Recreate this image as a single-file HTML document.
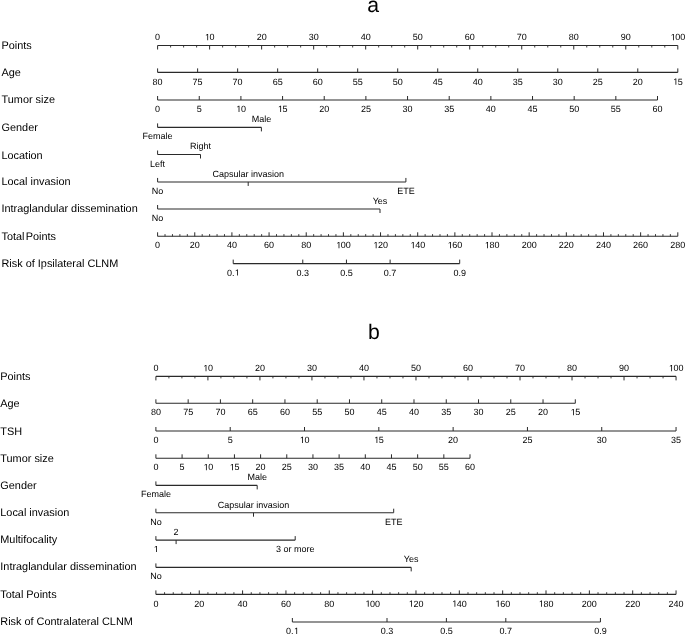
<!DOCTYPE html>
<html><head><meta charset="utf-8"><style>
html,body{margin:0;padding:0;background:#fff;}
body{width:685px;height:634px;overflow:hidden;}
svg{display:block;will-change:transform;}
text{font-family:"Liberation Sans",sans-serif;text-rendering:geometricPrecision;fill:#000000;}
</style></head><body>
<svg width="685" height="634" viewBox="0 0 685 634">
<rect width="685" height="634" fill="#fff"/>
<text x="373.20" y="11.95" font-size="21.2" text-anchor="middle" >a</text>
<text x="1.50" y="48.80" font-size="10.9" text-anchor="start" >Points</text>
<text x="1.50" y="75.50" font-size="10.9" text-anchor="start" >Age</text>
<text x="1.50" y="103.00" font-size="10.9" text-anchor="start" >Tumor size</text>
<text x="1.50" y="130.90" font-size="10.9" text-anchor="start" >Gender</text>
<text x="1.50" y="158.50" font-size="10.9" text-anchor="start" >Location</text>
<text x="1.50" y="185.00" font-size="10.9" text-anchor="start" >Local invasion</text>
<text x="1.50" y="212.00" font-size="10.9" text-anchor="start" >Intraglandular dissemination</text>
<text x="1.50" y="240.30" font-size="10.9" text-anchor="start" word-spacing="-1.8">Total Points</text>
<text x="1.50" y="266.90" font-size="10.9" text-anchor="start" >Risk of Ipsilateral CLNM</text>
<line x1="157.60" y1="45.50" x2="677.80" y2="45.50" stroke="#2a2a2a" stroke-width="1.1"/>
<line x1="157.60" y1="45.50" x2="157.60" y2="49.50" stroke="#2a2a2a" stroke-width="1.0"/>
<text x="157.60" y="40.30" font-size="9" text-anchor="middle" >0</text>
<line x1="170.60" y1="45.50" x2="170.60" y2="47.50" stroke="#2a2a2a" stroke-width="0.9"/>
<line x1="183.61" y1="45.50" x2="183.61" y2="47.50" stroke="#2a2a2a" stroke-width="0.9"/>
<line x1="196.61" y1="45.50" x2="196.61" y2="47.50" stroke="#2a2a2a" stroke-width="0.9"/>
<line x1="209.62" y1="45.50" x2="209.62" y2="49.50" stroke="#2a2a2a" stroke-width="1.0"/>
<text x="209.62" y="40.30" font-size="9" text-anchor="middle" > 0</text>
<polygon points="207.32,40.30 207.32,34.86 205.92,35.86 205.92,35.11 207.38,34.11 208.11,34.11 208.11,40.30" fill="#000000"/>
<line x1="222.62" y1="45.50" x2="222.62" y2="47.50" stroke="#2a2a2a" stroke-width="0.9"/>
<line x1="235.63" y1="45.50" x2="235.63" y2="47.50" stroke="#2a2a2a" stroke-width="0.9"/>
<line x1="248.63" y1="45.50" x2="248.63" y2="47.50" stroke="#2a2a2a" stroke-width="0.9"/>
<line x1="261.64" y1="45.50" x2="261.64" y2="49.50" stroke="#2a2a2a" stroke-width="1.0"/>
<text x="261.64" y="40.30" font-size="9" text-anchor="middle" >20</text>
<line x1="274.64" y1="45.50" x2="274.64" y2="47.50" stroke="#2a2a2a" stroke-width="0.9"/>
<line x1="287.65" y1="45.50" x2="287.65" y2="47.50" stroke="#2a2a2a" stroke-width="0.9"/>
<line x1="300.65" y1="45.50" x2="300.65" y2="47.50" stroke="#2a2a2a" stroke-width="0.9"/>
<line x1="313.66" y1="45.50" x2="313.66" y2="49.50" stroke="#2a2a2a" stroke-width="1.0"/>
<text x="313.66" y="40.30" font-size="9" text-anchor="middle" >30</text>
<line x1="326.66" y1="45.50" x2="326.66" y2="47.50" stroke="#2a2a2a" stroke-width="0.9"/>
<line x1="339.67" y1="45.50" x2="339.67" y2="47.50" stroke="#2a2a2a" stroke-width="0.9"/>
<line x1="352.67" y1="45.50" x2="352.67" y2="47.50" stroke="#2a2a2a" stroke-width="0.9"/>
<line x1="365.68" y1="45.50" x2="365.68" y2="49.50" stroke="#2a2a2a" stroke-width="1.0"/>
<text x="365.68" y="40.30" font-size="9" text-anchor="middle" >40</text>
<line x1="378.68" y1="45.50" x2="378.68" y2="47.50" stroke="#2a2a2a" stroke-width="0.9"/>
<line x1="391.69" y1="45.50" x2="391.69" y2="47.50" stroke="#2a2a2a" stroke-width="0.9"/>
<line x1="404.69" y1="45.50" x2="404.69" y2="47.50" stroke="#2a2a2a" stroke-width="0.9"/>
<line x1="417.70" y1="45.50" x2="417.70" y2="49.50" stroke="#2a2a2a" stroke-width="1.0"/>
<text x="417.70" y="40.30" font-size="9" text-anchor="middle" >50</text>
<line x1="430.70" y1="45.50" x2="430.70" y2="47.50" stroke="#2a2a2a" stroke-width="0.9"/>
<line x1="443.71" y1="45.50" x2="443.71" y2="47.50" stroke="#2a2a2a" stroke-width="0.9"/>
<line x1="456.71" y1="45.50" x2="456.71" y2="47.50" stroke="#2a2a2a" stroke-width="0.9"/>
<line x1="469.72" y1="45.50" x2="469.72" y2="49.50" stroke="#2a2a2a" stroke-width="1.0"/>
<text x="469.72" y="40.30" font-size="9" text-anchor="middle" >60</text>
<line x1="482.72" y1="45.50" x2="482.72" y2="47.50" stroke="#2a2a2a" stroke-width="0.9"/>
<line x1="495.73" y1="45.50" x2="495.73" y2="47.50" stroke="#2a2a2a" stroke-width="0.9"/>
<line x1="508.73" y1="45.50" x2="508.73" y2="47.50" stroke="#2a2a2a" stroke-width="0.9"/>
<line x1="521.74" y1="45.50" x2="521.74" y2="49.50" stroke="#2a2a2a" stroke-width="1.0"/>
<text x="521.74" y="40.30" font-size="9" text-anchor="middle" >70</text>
<line x1="534.74" y1="45.50" x2="534.74" y2="47.50" stroke="#2a2a2a" stroke-width="0.9"/>
<line x1="547.75" y1="45.50" x2="547.75" y2="47.50" stroke="#2a2a2a" stroke-width="0.9"/>
<line x1="560.75" y1="45.50" x2="560.75" y2="47.50" stroke="#2a2a2a" stroke-width="0.9"/>
<line x1="573.76" y1="45.50" x2="573.76" y2="49.50" stroke="#2a2a2a" stroke-width="1.0"/>
<text x="573.76" y="40.30" font-size="9" text-anchor="middle" >80</text>
<line x1="586.76" y1="45.50" x2="586.76" y2="47.50" stroke="#2a2a2a" stroke-width="0.9"/>
<line x1="599.77" y1="45.50" x2="599.77" y2="47.50" stroke="#2a2a2a" stroke-width="0.9"/>
<line x1="612.77" y1="45.50" x2="612.77" y2="47.50" stroke="#2a2a2a" stroke-width="0.9"/>
<line x1="625.78" y1="45.50" x2="625.78" y2="49.50" stroke="#2a2a2a" stroke-width="1.0"/>
<text x="625.78" y="40.30" font-size="9" text-anchor="middle" >90</text>
<line x1="638.78" y1="45.50" x2="638.78" y2="47.50" stroke="#2a2a2a" stroke-width="0.9"/>
<line x1="651.79" y1="45.50" x2="651.79" y2="47.50" stroke="#2a2a2a" stroke-width="0.9"/>
<line x1="664.79" y1="45.50" x2="664.79" y2="47.50" stroke="#2a2a2a" stroke-width="0.9"/>
<line x1="677.80" y1="45.50" x2="677.80" y2="49.50" stroke="#2a2a2a" stroke-width="1.0"/>
<text x="677.80" y="40.30" font-size="9" text-anchor="middle" > 00</text>
<polygon points="672.99,40.30 672.99,34.86 671.60,35.86 671.60,35.11 673.06,34.11 673.79,34.11 673.79,40.30" fill="#000000"/>
<line x1="157.60" y1="72.40" x2="677.80" y2="72.40" stroke="#2a2a2a" stroke-width="1.1"/>
<line x1="157.60" y1="72.40" x2="157.60" y2="68.40" stroke="#2a2a2a" stroke-width="1.0"/>
<text x="157.60" y="84.80" font-size="9" text-anchor="middle" >80</text>
<line x1="197.62" y1="72.40" x2="197.62" y2="68.40" stroke="#2a2a2a" stroke-width="1.0"/>
<text x="197.62" y="84.80" font-size="9" text-anchor="middle" >75</text>
<line x1="237.63" y1="72.40" x2="237.63" y2="68.40" stroke="#2a2a2a" stroke-width="1.0"/>
<text x="237.63" y="84.80" font-size="9" text-anchor="middle" >70</text>
<line x1="277.65" y1="72.40" x2="277.65" y2="68.40" stroke="#2a2a2a" stroke-width="1.0"/>
<text x="277.65" y="84.80" font-size="9" text-anchor="middle" >65</text>
<line x1="317.66" y1="72.40" x2="317.66" y2="68.40" stroke="#2a2a2a" stroke-width="1.0"/>
<text x="317.66" y="84.80" font-size="9" text-anchor="middle" >60</text>
<line x1="357.68" y1="72.40" x2="357.68" y2="68.40" stroke="#2a2a2a" stroke-width="1.0"/>
<text x="357.68" y="84.80" font-size="9" text-anchor="middle" >55</text>
<line x1="397.69" y1="72.40" x2="397.69" y2="68.40" stroke="#2a2a2a" stroke-width="1.0"/>
<text x="397.69" y="84.80" font-size="9" text-anchor="middle" >50</text>
<line x1="437.71" y1="72.40" x2="437.71" y2="68.40" stroke="#2a2a2a" stroke-width="1.0"/>
<text x="437.71" y="84.80" font-size="9" text-anchor="middle" >45</text>
<line x1="477.72" y1="72.40" x2="477.72" y2="68.40" stroke="#2a2a2a" stroke-width="1.0"/>
<text x="477.72" y="84.80" font-size="9" text-anchor="middle" >40</text>
<line x1="517.74" y1="72.40" x2="517.74" y2="68.40" stroke="#2a2a2a" stroke-width="1.0"/>
<text x="517.74" y="84.80" font-size="9" text-anchor="middle" >35</text>
<line x1="557.75" y1="72.40" x2="557.75" y2="68.40" stroke="#2a2a2a" stroke-width="1.0"/>
<text x="557.75" y="84.80" font-size="9" text-anchor="middle" >30</text>
<line x1="597.77" y1="72.40" x2="597.77" y2="68.40" stroke="#2a2a2a" stroke-width="1.0"/>
<text x="597.77" y="84.80" font-size="9" text-anchor="middle" >25</text>
<line x1="637.78" y1="72.40" x2="637.78" y2="68.40" stroke="#2a2a2a" stroke-width="1.0"/>
<text x="637.78" y="84.80" font-size="9" text-anchor="middle" >20</text>
<line x1="677.80" y1="72.40" x2="677.80" y2="68.40" stroke="#2a2a2a" stroke-width="1.0"/>
<text x="677.80" y="84.80" font-size="9" text-anchor="middle" > 5</text>
<polygon points="675.50,84.80 675.50,79.36 674.10,80.36 674.10,79.61 675.56,78.61 676.29,78.61 676.29,84.80" fill="#000000"/>
<line x1="157.60" y1="100.00" x2="657.50" y2="100.00" stroke="#2a2a2a" stroke-width="1.1"/>
<line x1="157.60" y1="100.00" x2="157.60" y2="96.00" stroke="#2a2a2a" stroke-width="1.0"/>
<text x="157.60" y="112.00" font-size="9" text-anchor="middle" >0</text>
<line x1="199.26" y1="100.00" x2="199.26" y2="96.00" stroke="#2a2a2a" stroke-width="1.0"/>
<text x="199.26" y="112.00" font-size="9" text-anchor="middle" >5</text>
<line x1="240.92" y1="100.00" x2="240.92" y2="96.00" stroke="#2a2a2a" stroke-width="1.0"/>
<text x="240.92" y="112.00" font-size="9" text-anchor="middle" > 0</text>
<polygon points="238.61,112.00 238.61,106.56 237.22,107.56 237.22,106.81 238.68,105.81 239.41,105.81 239.41,112.00" fill="#000000"/>
<line x1="282.57" y1="100.00" x2="282.57" y2="96.00" stroke="#2a2a2a" stroke-width="1.0"/>
<text x="282.57" y="112.00" font-size="9" text-anchor="middle" > 5</text>
<polygon points="280.27,112.00 280.27,106.56 278.87,107.56 278.87,106.81 280.34,105.81 281.07,105.81 281.07,112.00" fill="#000000"/>
<line x1="324.23" y1="100.00" x2="324.23" y2="96.00" stroke="#2a2a2a" stroke-width="1.0"/>
<text x="324.23" y="112.00" font-size="9" text-anchor="middle" >20</text>
<line x1="365.89" y1="100.00" x2="365.89" y2="96.00" stroke="#2a2a2a" stroke-width="1.0"/>
<text x="365.89" y="112.00" font-size="9" text-anchor="middle" >25</text>
<line x1="407.55" y1="100.00" x2="407.55" y2="96.00" stroke="#2a2a2a" stroke-width="1.0"/>
<text x="407.55" y="112.00" font-size="9" text-anchor="middle" >30</text>
<line x1="449.21" y1="100.00" x2="449.21" y2="96.00" stroke="#2a2a2a" stroke-width="1.0"/>
<text x="449.21" y="112.00" font-size="9" text-anchor="middle" >35</text>
<line x1="490.87" y1="100.00" x2="490.87" y2="96.00" stroke="#2a2a2a" stroke-width="1.0"/>
<text x="490.87" y="112.00" font-size="9" text-anchor="middle" >40</text>
<line x1="532.52" y1="100.00" x2="532.52" y2="96.00" stroke="#2a2a2a" stroke-width="1.0"/>
<text x="532.52" y="112.00" font-size="9" text-anchor="middle" >45</text>
<line x1="574.18" y1="100.00" x2="574.18" y2="96.00" stroke="#2a2a2a" stroke-width="1.0"/>
<text x="574.18" y="112.00" font-size="9" text-anchor="middle" >50</text>
<line x1="615.84" y1="100.00" x2="615.84" y2="96.00" stroke="#2a2a2a" stroke-width="1.0"/>
<text x="615.84" y="112.00" font-size="9" text-anchor="middle" >55</text>
<line x1="657.50" y1="100.00" x2="657.50" y2="96.00" stroke="#2a2a2a" stroke-width="1.0"/>
<text x="657.50" y="112.00" font-size="9" text-anchor="middle" >60</text>
<line x1="157.60" y1="127.40" x2="261.40" y2="127.40" stroke="#2a2a2a" stroke-width="1.1"/>
<line x1="157.60" y1="127.40" x2="157.60" y2="123.40" stroke="#2a2a2a" stroke-width="1.0"/>
<text x="157.60" y="139.40" font-size="9" text-anchor="middle" >Female</text>
<line x1="261.40" y1="127.40" x2="261.40" y2="131.40" stroke="#2a2a2a" stroke-width="1.0"/>
<text x="261.40" y="122.20" font-size="9" text-anchor="middle" >Male</text>
<line x1="157.60" y1="154.50" x2="200.50" y2="154.50" stroke="#2a2a2a" stroke-width="1.1"/>
<line x1="157.60" y1="154.50" x2="157.60" y2="150.50" stroke="#2a2a2a" stroke-width="1.0"/>
<text x="157.60" y="166.50" font-size="9" text-anchor="middle" >Left</text>
<line x1="200.50" y1="154.50" x2="200.50" y2="158.50" stroke="#2a2a2a" stroke-width="1.0"/>
<text x="200.50" y="149.30" font-size="9" text-anchor="middle" >Right</text>
<line x1="157.60" y1="181.95" x2="405.90" y2="181.95" stroke="#2a2a2a" stroke-width="1.1"/>
<line x1="157.60" y1="181.95" x2="157.60" y2="177.95" stroke="#2a2a2a" stroke-width="1.0"/>
<text x="157.60" y="193.95" font-size="9" text-anchor="middle" >No</text>
<line x1="248.20" y1="181.95" x2="248.20" y2="185.95" stroke="#2a2a2a" stroke-width="1.0"/>
<text x="248.20" y="176.75" font-size="9" text-anchor="middle" >Capsular invasion</text>
<line x1="405.90" y1="181.95" x2="405.90" y2="177.95" stroke="#2a2a2a" stroke-width="1.0"/>
<text x="405.90" y="193.95" font-size="9" text-anchor="middle" >ETE</text>
<line x1="157.60" y1="209.00" x2="380.00" y2="209.00" stroke="#2a2a2a" stroke-width="1.1"/>
<line x1="157.60" y1="209.00" x2="157.60" y2="205.00" stroke="#2a2a2a" stroke-width="1.0"/>
<text x="157.60" y="221.00" font-size="9" text-anchor="middle" >No</text>
<line x1="380.00" y1="209.00" x2="380.00" y2="213.00" stroke="#2a2a2a" stroke-width="1.0"/>
<text x="380.00" y="203.80" font-size="9" text-anchor="middle" >Yes</text>
<line x1="157.60" y1="236.30" x2="677.80" y2="236.30" stroke="#2a2a2a" stroke-width="1.1"/>
<line x1="157.60" y1="236.30" x2="157.60" y2="232.30" stroke="#2a2a2a" stroke-width="1.0"/>
<text x="157.60" y="248.30" font-size="9" text-anchor="middle" >0</text>
<line x1="165.03" y1="236.30" x2="165.03" y2="234.10" stroke="#2a2a2a" stroke-width="0.9"/>
<line x1="172.46" y1="236.30" x2="172.46" y2="234.10" stroke="#2a2a2a" stroke-width="0.9"/>
<line x1="179.89" y1="236.30" x2="179.89" y2="234.10" stroke="#2a2a2a" stroke-width="0.9"/>
<line x1="187.33" y1="236.30" x2="187.33" y2="234.10" stroke="#2a2a2a" stroke-width="0.9"/>
<line x1="194.76" y1="236.30" x2="194.76" y2="232.30" stroke="#2a2a2a" stroke-width="1.0"/>
<text x="194.76" y="248.30" font-size="9" text-anchor="middle" >20</text>
<line x1="202.19" y1="236.30" x2="202.19" y2="234.10" stroke="#2a2a2a" stroke-width="0.9"/>
<line x1="209.62" y1="236.30" x2="209.62" y2="234.10" stroke="#2a2a2a" stroke-width="0.9"/>
<line x1="217.05" y1="236.30" x2="217.05" y2="234.10" stroke="#2a2a2a" stroke-width="0.9"/>
<line x1="224.48" y1="236.30" x2="224.48" y2="234.10" stroke="#2a2a2a" stroke-width="0.9"/>
<line x1="231.91" y1="236.30" x2="231.91" y2="232.30" stroke="#2a2a2a" stroke-width="1.0"/>
<text x="231.91" y="248.30" font-size="9" text-anchor="middle" >40</text>
<line x1="239.35" y1="236.30" x2="239.35" y2="234.10" stroke="#2a2a2a" stroke-width="0.9"/>
<line x1="246.78" y1="236.30" x2="246.78" y2="234.10" stroke="#2a2a2a" stroke-width="0.9"/>
<line x1="254.21" y1="236.30" x2="254.21" y2="234.10" stroke="#2a2a2a" stroke-width="0.9"/>
<line x1="261.64" y1="236.30" x2="261.64" y2="234.10" stroke="#2a2a2a" stroke-width="0.9"/>
<line x1="269.07" y1="236.30" x2="269.07" y2="232.30" stroke="#2a2a2a" stroke-width="1.0"/>
<text x="269.07" y="248.30" font-size="9" text-anchor="middle" >60</text>
<line x1="276.50" y1="236.30" x2="276.50" y2="234.10" stroke="#2a2a2a" stroke-width="0.9"/>
<line x1="283.93" y1="236.30" x2="283.93" y2="234.10" stroke="#2a2a2a" stroke-width="0.9"/>
<line x1="291.37" y1="236.30" x2="291.37" y2="234.10" stroke="#2a2a2a" stroke-width="0.9"/>
<line x1="298.80" y1="236.30" x2="298.80" y2="234.10" stroke="#2a2a2a" stroke-width="0.9"/>
<line x1="306.23" y1="236.30" x2="306.23" y2="232.30" stroke="#2a2a2a" stroke-width="1.0"/>
<text x="306.23" y="248.30" font-size="9" text-anchor="middle" >80</text>
<line x1="313.66" y1="236.30" x2="313.66" y2="234.10" stroke="#2a2a2a" stroke-width="0.9"/>
<line x1="321.09" y1="236.30" x2="321.09" y2="234.10" stroke="#2a2a2a" stroke-width="0.9"/>
<line x1="328.52" y1="236.30" x2="328.52" y2="234.10" stroke="#2a2a2a" stroke-width="0.9"/>
<line x1="335.95" y1="236.30" x2="335.95" y2="234.10" stroke="#2a2a2a" stroke-width="0.9"/>
<line x1="343.39" y1="236.30" x2="343.39" y2="232.30" stroke="#2a2a2a" stroke-width="1.0"/>
<text x="343.39" y="248.30" font-size="9" text-anchor="middle" > 00</text>
<polygon points="338.58,248.30 338.58,242.86 337.18,243.86 337.18,243.11 338.65,242.11 339.38,242.11 339.38,248.30" fill="#000000"/>
<line x1="350.82" y1="236.30" x2="350.82" y2="234.10" stroke="#2a2a2a" stroke-width="0.9"/>
<line x1="358.25" y1="236.30" x2="358.25" y2="234.10" stroke="#2a2a2a" stroke-width="0.9"/>
<line x1="365.68" y1="236.30" x2="365.68" y2="234.10" stroke="#2a2a2a" stroke-width="0.9"/>
<line x1="373.11" y1="236.30" x2="373.11" y2="234.10" stroke="#2a2a2a" stroke-width="0.9"/>
<line x1="380.54" y1="236.30" x2="380.54" y2="232.30" stroke="#2a2a2a" stroke-width="1.0"/>
<text x="380.54" y="248.30" font-size="9" text-anchor="middle" > 20</text>
<polygon points="375.74,248.30 375.74,242.86 374.34,243.86 374.34,243.11 375.80,242.11 376.53,242.11 376.53,248.30" fill="#000000"/>
<line x1="387.97" y1="236.30" x2="387.97" y2="234.10" stroke="#2a2a2a" stroke-width="0.9"/>
<line x1="395.41" y1="236.30" x2="395.41" y2="234.10" stroke="#2a2a2a" stroke-width="0.9"/>
<line x1="402.84" y1="236.30" x2="402.84" y2="234.10" stroke="#2a2a2a" stroke-width="0.9"/>
<line x1="410.27" y1="236.30" x2="410.27" y2="234.10" stroke="#2a2a2a" stroke-width="0.9"/>
<line x1="417.70" y1="236.30" x2="417.70" y2="232.30" stroke="#2a2a2a" stroke-width="1.0"/>
<text x="417.70" y="248.30" font-size="9" text-anchor="middle" > 40</text>
<polygon points="412.89,248.30 412.89,242.86 411.50,243.86 411.50,243.11 412.96,242.11 413.69,242.11 413.69,248.30" fill="#000000"/>
<line x1="425.13" y1="236.30" x2="425.13" y2="234.10" stroke="#2a2a2a" stroke-width="0.9"/>
<line x1="432.56" y1="236.30" x2="432.56" y2="234.10" stroke="#2a2a2a" stroke-width="0.9"/>
<line x1="439.99" y1="236.30" x2="439.99" y2="234.10" stroke="#2a2a2a" stroke-width="0.9"/>
<line x1="447.43" y1="236.30" x2="447.43" y2="234.10" stroke="#2a2a2a" stroke-width="0.9"/>
<line x1="454.86" y1="236.30" x2="454.86" y2="232.30" stroke="#2a2a2a" stroke-width="1.0"/>
<text x="454.86" y="248.30" font-size="9" text-anchor="middle" > 60</text>
<polygon points="450.05,248.30 450.05,242.86 448.65,243.86 448.65,243.11 450.12,242.11 450.85,242.11 450.85,248.30" fill="#000000"/>
<line x1="462.29" y1="236.30" x2="462.29" y2="234.10" stroke="#2a2a2a" stroke-width="0.9"/>
<line x1="469.72" y1="236.30" x2="469.72" y2="234.10" stroke="#2a2a2a" stroke-width="0.9"/>
<line x1="477.15" y1="236.30" x2="477.15" y2="234.10" stroke="#2a2a2a" stroke-width="0.9"/>
<line x1="484.58" y1="236.30" x2="484.58" y2="234.10" stroke="#2a2a2a" stroke-width="0.9"/>
<line x1="492.01" y1="236.30" x2="492.01" y2="232.30" stroke="#2a2a2a" stroke-width="1.0"/>
<text x="492.01" y="248.30" font-size="9" text-anchor="middle" > 80</text>
<polygon points="487.21,248.30 487.21,242.86 485.81,243.86 485.81,243.11 487.27,242.11 488.00,242.11 488.00,248.30" fill="#000000"/>
<line x1="499.45" y1="236.30" x2="499.45" y2="234.10" stroke="#2a2a2a" stroke-width="0.9"/>
<line x1="506.88" y1="236.30" x2="506.88" y2="234.10" stroke="#2a2a2a" stroke-width="0.9"/>
<line x1="514.31" y1="236.30" x2="514.31" y2="234.10" stroke="#2a2a2a" stroke-width="0.9"/>
<line x1="521.74" y1="236.30" x2="521.74" y2="234.10" stroke="#2a2a2a" stroke-width="0.9"/>
<line x1="529.17" y1="236.30" x2="529.17" y2="232.30" stroke="#2a2a2a" stroke-width="1.0"/>
<text x="529.17" y="248.30" font-size="9" text-anchor="middle" >200</text>
<line x1="536.60" y1="236.30" x2="536.60" y2="234.10" stroke="#2a2a2a" stroke-width="0.9"/>
<line x1="544.03" y1="236.30" x2="544.03" y2="234.10" stroke="#2a2a2a" stroke-width="0.9"/>
<line x1="551.47" y1="236.30" x2="551.47" y2="234.10" stroke="#2a2a2a" stroke-width="0.9"/>
<line x1="558.90" y1="236.30" x2="558.90" y2="234.10" stroke="#2a2a2a" stroke-width="0.9"/>
<line x1="566.33" y1="236.30" x2="566.33" y2="232.30" stroke="#2a2a2a" stroke-width="1.0"/>
<text x="566.33" y="248.30" font-size="9" text-anchor="middle" >220</text>
<line x1="573.76" y1="236.30" x2="573.76" y2="234.10" stroke="#2a2a2a" stroke-width="0.9"/>
<line x1="581.19" y1="236.30" x2="581.19" y2="234.10" stroke="#2a2a2a" stroke-width="0.9"/>
<line x1="588.62" y1="236.30" x2="588.62" y2="234.10" stroke="#2a2a2a" stroke-width="0.9"/>
<line x1="596.05" y1="236.30" x2="596.05" y2="234.10" stroke="#2a2a2a" stroke-width="0.9"/>
<line x1="603.49" y1="236.30" x2="603.49" y2="232.30" stroke="#2a2a2a" stroke-width="1.0"/>
<text x="603.49" y="248.30" font-size="9" text-anchor="middle" >240</text>
<line x1="610.92" y1="236.30" x2="610.92" y2="234.10" stroke="#2a2a2a" stroke-width="0.9"/>
<line x1="618.35" y1="236.30" x2="618.35" y2="234.10" stroke="#2a2a2a" stroke-width="0.9"/>
<line x1="625.78" y1="236.30" x2="625.78" y2="234.10" stroke="#2a2a2a" stroke-width="0.9"/>
<line x1="633.21" y1="236.30" x2="633.21" y2="234.10" stroke="#2a2a2a" stroke-width="0.9"/>
<line x1="640.64" y1="236.30" x2="640.64" y2="232.30" stroke="#2a2a2a" stroke-width="1.0"/>
<text x="640.64" y="248.30" font-size="9" text-anchor="middle" >260</text>
<line x1="648.07" y1="236.30" x2="648.07" y2="234.10" stroke="#2a2a2a" stroke-width="0.9"/>
<line x1="655.51" y1="236.30" x2="655.51" y2="234.10" stroke="#2a2a2a" stroke-width="0.9"/>
<line x1="662.94" y1="236.30" x2="662.94" y2="234.10" stroke="#2a2a2a" stroke-width="0.9"/>
<line x1="670.37" y1="236.30" x2="670.37" y2="234.10" stroke="#2a2a2a" stroke-width="0.9"/>
<line x1="677.80" y1="236.30" x2="677.80" y2="232.30" stroke="#2a2a2a" stroke-width="1.0"/>
<text x="677.80" y="248.30" font-size="9" text-anchor="middle" >280</text>
<line x1="233.21" y1="263.60" x2="459.69" y2="263.60" stroke="#2a2a2a" stroke-width="1.1"/>
<line x1="233.21" y1="263.60" x2="233.21" y2="259.60" stroke="#2a2a2a" stroke-width="1.0"/>
<text x="233.21" y="275.60" font-size="9" text-anchor="middle" >0. </text>
<polygon points="237.16,275.60 237.16,270.16 235.76,271.16 235.76,270.41 237.22,269.41 237.95,269.41 237.95,275.60" fill="#000000"/>
<line x1="302.78" y1="263.60" x2="302.78" y2="259.60" stroke="#2a2a2a" stroke-width="1.0"/>
<text x="302.78" y="275.60" font-size="9" text-anchor="middle" >0.3</text>
<line x1="346.45" y1="263.60" x2="346.45" y2="259.60" stroke="#2a2a2a" stroke-width="1.0"/>
<text x="346.45" y="275.60" font-size="9" text-anchor="middle" >0.5</text>
<line x1="390.12" y1="263.60" x2="390.12" y2="259.60" stroke="#2a2a2a" stroke-width="1.0"/>
<text x="390.12" y="275.60" font-size="9" text-anchor="middle" >0.7</text>
<line x1="459.69" y1="263.60" x2="459.69" y2="259.60" stroke="#2a2a2a" stroke-width="1.0"/>
<text x="459.69" y="275.60" font-size="9" text-anchor="middle" >0.9</text>
<text x="373.80" y="339.20" font-size="21.2" text-anchor="middle" >b</text>
<text x="0.30" y="379.90" font-size="10.9" text-anchor="start" >Points</text>
<text x="0.30" y="406.50" font-size="10.9" text-anchor="start" >Age</text>
<text x="0.30" y="434.90" font-size="10.9" text-anchor="start" >TSH</text>
<text x="0.30" y="461.50" font-size="10.9" text-anchor="start" >Tumor size</text>
<text x="0.30" y="489.30" font-size="10.9" text-anchor="start" >Gender</text>
<text x="0.30" y="516.00" font-size="10.9" text-anchor="start" >Local invasion</text>
<text x="0.30" y="542.90" font-size="10.9" text-anchor="start" >Multifocality</text>
<text x="0.30" y="569.70" font-size="10.9" text-anchor="start" >Intraglandular dissemination</text>
<text x="0.30" y="598.40" font-size="10.9" text-anchor="start" >Total Points</text>
<text x="0.30" y="624.70" font-size="10.9" text-anchor="start" >Risk of Contralateral CLNM</text>
<line x1="155.90" y1="376.40" x2="676.05" y2="376.40" stroke="#2a2a2a" stroke-width="1.1"/>
<line x1="155.90" y1="376.40" x2="155.90" y2="380.40" stroke="#2a2a2a" stroke-width="1.0"/>
<text x="155.90" y="371.20" font-size="9" text-anchor="middle" >0</text>
<line x1="168.90" y1="376.40" x2="168.90" y2="378.40" stroke="#2a2a2a" stroke-width="0.9"/>
<line x1="181.91" y1="376.40" x2="181.91" y2="378.40" stroke="#2a2a2a" stroke-width="0.9"/>
<line x1="194.91" y1="376.40" x2="194.91" y2="378.40" stroke="#2a2a2a" stroke-width="0.9"/>
<line x1="207.92" y1="376.40" x2="207.92" y2="380.40" stroke="#2a2a2a" stroke-width="1.0"/>
<text x="207.92" y="371.20" font-size="9" text-anchor="middle" > 0</text>
<polygon points="205.61,371.20 205.61,365.76 204.21,366.76 204.21,366.01 205.68,365.01 206.41,365.01 206.41,371.20" fill="#000000"/>
<line x1="220.92" y1="376.40" x2="220.92" y2="378.40" stroke="#2a2a2a" stroke-width="0.9"/>
<line x1="233.92" y1="376.40" x2="233.92" y2="378.40" stroke="#2a2a2a" stroke-width="0.9"/>
<line x1="246.93" y1="376.40" x2="246.93" y2="378.40" stroke="#2a2a2a" stroke-width="0.9"/>
<line x1="259.93" y1="376.40" x2="259.93" y2="380.40" stroke="#2a2a2a" stroke-width="1.0"/>
<text x="259.93" y="371.20" font-size="9" text-anchor="middle" >20</text>
<line x1="272.93" y1="376.40" x2="272.93" y2="378.40" stroke="#2a2a2a" stroke-width="0.9"/>
<line x1="285.94" y1="376.40" x2="285.94" y2="378.40" stroke="#2a2a2a" stroke-width="0.9"/>
<line x1="298.94" y1="376.40" x2="298.94" y2="378.40" stroke="#2a2a2a" stroke-width="0.9"/>
<line x1="311.94" y1="376.40" x2="311.94" y2="380.40" stroke="#2a2a2a" stroke-width="1.0"/>
<text x="311.94" y="371.20" font-size="9" text-anchor="middle" >30</text>
<line x1="324.95" y1="376.40" x2="324.95" y2="378.40" stroke="#2a2a2a" stroke-width="0.9"/>
<line x1="337.95" y1="376.40" x2="337.95" y2="378.40" stroke="#2a2a2a" stroke-width="0.9"/>
<line x1="350.96" y1="376.40" x2="350.96" y2="378.40" stroke="#2a2a2a" stroke-width="0.9"/>
<line x1="363.96" y1="376.40" x2="363.96" y2="380.40" stroke="#2a2a2a" stroke-width="1.0"/>
<text x="363.96" y="371.20" font-size="9" text-anchor="middle" >40</text>
<line x1="376.96" y1="376.40" x2="376.96" y2="378.40" stroke="#2a2a2a" stroke-width="0.9"/>
<line x1="389.97" y1="376.40" x2="389.97" y2="378.40" stroke="#2a2a2a" stroke-width="0.9"/>
<line x1="402.97" y1="376.40" x2="402.97" y2="378.40" stroke="#2a2a2a" stroke-width="0.9"/>
<line x1="415.98" y1="376.40" x2="415.98" y2="380.40" stroke="#2a2a2a" stroke-width="1.0"/>
<text x="415.98" y="371.20" font-size="9" text-anchor="middle" >50</text>
<line x1="428.98" y1="376.40" x2="428.98" y2="378.40" stroke="#2a2a2a" stroke-width="0.9"/>
<line x1="441.98" y1="376.40" x2="441.98" y2="378.40" stroke="#2a2a2a" stroke-width="0.9"/>
<line x1="454.99" y1="376.40" x2="454.99" y2="378.40" stroke="#2a2a2a" stroke-width="0.9"/>
<line x1="467.99" y1="376.40" x2="467.99" y2="380.40" stroke="#2a2a2a" stroke-width="1.0"/>
<text x="467.99" y="371.20" font-size="9" text-anchor="middle" >60</text>
<line x1="480.99" y1="376.40" x2="480.99" y2="378.40" stroke="#2a2a2a" stroke-width="0.9"/>
<line x1="494.00" y1="376.40" x2="494.00" y2="378.40" stroke="#2a2a2a" stroke-width="0.9"/>
<line x1="507.00" y1="376.40" x2="507.00" y2="378.40" stroke="#2a2a2a" stroke-width="0.9"/>
<line x1="520.00" y1="376.40" x2="520.00" y2="380.40" stroke="#2a2a2a" stroke-width="1.0"/>
<text x="520.00" y="371.20" font-size="9" text-anchor="middle" >70</text>
<line x1="533.01" y1="376.40" x2="533.01" y2="378.40" stroke="#2a2a2a" stroke-width="0.9"/>
<line x1="546.01" y1="376.40" x2="546.01" y2="378.40" stroke="#2a2a2a" stroke-width="0.9"/>
<line x1="559.02" y1="376.40" x2="559.02" y2="378.40" stroke="#2a2a2a" stroke-width="0.9"/>
<line x1="572.02" y1="376.40" x2="572.02" y2="380.40" stroke="#2a2a2a" stroke-width="1.0"/>
<text x="572.02" y="371.20" font-size="9" text-anchor="middle" >80</text>
<line x1="585.02" y1="376.40" x2="585.02" y2="378.40" stroke="#2a2a2a" stroke-width="0.9"/>
<line x1="598.03" y1="376.40" x2="598.03" y2="378.40" stroke="#2a2a2a" stroke-width="0.9"/>
<line x1="611.03" y1="376.40" x2="611.03" y2="378.40" stroke="#2a2a2a" stroke-width="0.9"/>
<line x1="624.03" y1="376.40" x2="624.03" y2="380.40" stroke="#2a2a2a" stroke-width="1.0"/>
<text x="624.03" y="371.20" font-size="9" text-anchor="middle" >90</text>
<line x1="637.04" y1="376.40" x2="637.04" y2="378.40" stroke="#2a2a2a" stroke-width="0.9"/>
<line x1="650.04" y1="376.40" x2="650.04" y2="378.40" stroke="#2a2a2a" stroke-width="0.9"/>
<line x1="663.05" y1="376.40" x2="663.05" y2="378.40" stroke="#2a2a2a" stroke-width="0.9"/>
<line x1="676.05" y1="376.40" x2="676.05" y2="380.40" stroke="#2a2a2a" stroke-width="1.0"/>
<text x="676.05" y="371.20" font-size="9" text-anchor="middle" > 00</text>
<polygon points="671.24,371.20 671.24,365.76 669.85,366.76 669.85,366.01 671.31,365.01 672.04,365.01 672.04,371.20" fill="#000000"/>
<line x1="155.90" y1="403.30" x2="575.30" y2="403.30" stroke="#2a2a2a" stroke-width="1.1"/>
<line x1="155.90" y1="403.30" x2="155.90" y2="399.30" stroke="#2a2a2a" stroke-width="1.0"/>
<text x="155.90" y="415.30" font-size="9" text-anchor="middle" >80</text>
<line x1="188.16" y1="403.30" x2="188.16" y2="399.30" stroke="#2a2a2a" stroke-width="1.0"/>
<text x="188.16" y="415.30" font-size="9" text-anchor="middle" >75</text>
<line x1="220.42" y1="403.30" x2="220.42" y2="399.30" stroke="#2a2a2a" stroke-width="1.0"/>
<text x="220.42" y="415.30" font-size="9" text-anchor="middle" >70</text>
<line x1="252.68" y1="403.30" x2="252.68" y2="399.30" stroke="#2a2a2a" stroke-width="1.0"/>
<text x="252.68" y="415.30" font-size="9" text-anchor="middle" >65</text>
<line x1="284.95" y1="403.30" x2="284.95" y2="399.30" stroke="#2a2a2a" stroke-width="1.0"/>
<text x="284.95" y="415.30" font-size="9" text-anchor="middle" >60</text>
<line x1="317.21" y1="403.30" x2="317.21" y2="399.30" stroke="#2a2a2a" stroke-width="1.0"/>
<text x="317.21" y="415.30" font-size="9" text-anchor="middle" >55</text>
<line x1="349.47" y1="403.30" x2="349.47" y2="399.30" stroke="#2a2a2a" stroke-width="1.0"/>
<text x="349.47" y="415.30" font-size="9" text-anchor="middle" >50</text>
<line x1="381.73" y1="403.30" x2="381.73" y2="399.30" stroke="#2a2a2a" stroke-width="1.0"/>
<text x="381.73" y="415.30" font-size="9" text-anchor="middle" >45</text>
<line x1="413.99" y1="403.30" x2="413.99" y2="399.30" stroke="#2a2a2a" stroke-width="1.0"/>
<text x="413.99" y="415.30" font-size="9" text-anchor="middle" >40</text>
<line x1="446.25" y1="403.30" x2="446.25" y2="399.30" stroke="#2a2a2a" stroke-width="1.0"/>
<text x="446.25" y="415.30" font-size="9" text-anchor="middle" >35</text>
<line x1="478.52" y1="403.30" x2="478.52" y2="399.30" stroke="#2a2a2a" stroke-width="1.0"/>
<text x="478.52" y="415.30" font-size="9" text-anchor="middle" >30</text>
<line x1="510.78" y1="403.30" x2="510.78" y2="399.30" stroke="#2a2a2a" stroke-width="1.0"/>
<text x="510.78" y="415.30" font-size="9" text-anchor="middle" >25</text>
<line x1="543.04" y1="403.30" x2="543.04" y2="399.30" stroke="#2a2a2a" stroke-width="1.0"/>
<text x="543.04" y="415.30" font-size="9" text-anchor="middle" >20</text>
<line x1="575.30" y1="403.30" x2="575.30" y2="399.30" stroke="#2a2a2a" stroke-width="1.0"/>
<text x="575.30" y="415.30" font-size="9" text-anchor="middle" > 5</text>
<polygon points="573.00,415.30 573.00,409.86 571.60,410.86 571.60,410.11 573.06,409.11 573.79,409.11 573.79,415.30" fill="#000000"/>
<line x1="155.90" y1="431.00" x2="676.05" y2="431.00" stroke="#2a2a2a" stroke-width="1.1"/>
<line x1="155.90" y1="431.00" x2="155.90" y2="427.00" stroke="#2a2a2a" stroke-width="1.0"/>
<text x="155.90" y="443.00" font-size="9" text-anchor="middle" >0</text>
<line x1="230.21" y1="431.00" x2="230.21" y2="427.00" stroke="#2a2a2a" stroke-width="1.0"/>
<text x="230.21" y="443.00" font-size="9" text-anchor="middle" >5</text>
<line x1="304.51" y1="431.00" x2="304.51" y2="427.00" stroke="#2a2a2a" stroke-width="1.0"/>
<text x="304.51" y="443.00" font-size="9" text-anchor="middle" > 0</text>
<polygon points="302.21,443.00 302.21,437.56 300.81,438.56 300.81,437.81 302.28,436.81 303.01,436.81 303.01,443.00" fill="#000000"/>
<line x1="378.82" y1="431.00" x2="378.82" y2="427.00" stroke="#2a2a2a" stroke-width="1.0"/>
<text x="378.82" y="443.00" font-size="9" text-anchor="middle" > 5</text>
<polygon points="376.52,443.00 376.52,437.56 375.12,438.56 375.12,437.81 376.58,436.81 377.31,436.81 377.31,443.00" fill="#000000"/>
<line x1="453.13" y1="431.00" x2="453.13" y2="427.00" stroke="#2a2a2a" stroke-width="1.0"/>
<text x="453.13" y="443.00" font-size="9" text-anchor="middle" >20</text>
<line x1="527.44" y1="431.00" x2="527.44" y2="427.00" stroke="#2a2a2a" stroke-width="1.0"/>
<text x="527.44" y="443.00" font-size="9" text-anchor="middle" >25</text>
<line x1="601.74" y1="431.00" x2="601.74" y2="427.00" stroke="#2a2a2a" stroke-width="1.0"/>
<text x="601.74" y="443.00" font-size="9" text-anchor="middle" >30</text>
<line x1="676.05" y1="431.00" x2="676.05" y2="427.00" stroke="#2a2a2a" stroke-width="1.0"/>
<text x="676.05" y="443.00" font-size="9" text-anchor="middle" >35</text>
<line x1="155.90" y1="458.30" x2="470.00" y2="458.30" stroke="#2a2a2a" stroke-width="1.1"/>
<line x1="155.90" y1="458.30" x2="155.90" y2="454.30" stroke="#2a2a2a" stroke-width="1.0"/>
<text x="155.90" y="470.30" font-size="9" text-anchor="middle" >0</text>
<line x1="182.08" y1="458.30" x2="182.08" y2="454.30" stroke="#2a2a2a" stroke-width="1.0"/>
<text x="182.08" y="470.30" font-size="9" text-anchor="middle" >5</text>
<line x1="208.25" y1="458.30" x2="208.25" y2="454.30" stroke="#2a2a2a" stroke-width="1.0"/>
<text x="208.25" y="470.30" font-size="9" text-anchor="middle" > 0</text>
<polygon points="205.95,470.30 205.95,464.86 204.55,465.86 204.55,465.11 206.01,464.11 206.74,464.11 206.74,470.30" fill="#000000"/>
<line x1="234.43" y1="458.30" x2="234.43" y2="454.30" stroke="#2a2a2a" stroke-width="1.0"/>
<text x="234.43" y="470.30" font-size="9" text-anchor="middle" > 5</text>
<polygon points="232.12,470.30 232.12,464.86 230.72,465.86 230.72,465.11 232.19,464.11 232.92,464.11 232.92,470.30" fill="#000000"/>
<line x1="260.60" y1="458.30" x2="260.60" y2="454.30" stroke="#2a2a2a" stroke-width="1.0"/>
<text x="260.60" y="470.30" font-size="9" text-anchor="middle" >20</text>
<line x1="286.78" y1="458.30" x2="286.78" y2="454.30" stroke="#2a2a2a" stroke-width="1.0"/>
<text x="286.78" y="470.30" font-size="9" text-anchor="middle" >25</text>
<line x1="312.95" y1="458.30" x2="312.95" y2="454.30" stroke="#2a2a2a" stroke-width="1.0"/>
<text x="312.95" y="470.30" font-size="9" text-anchor="middle" >30</text>
<line x1="339.12" y1="458.30" x2="339.12" y2="454.30" stroke="#2a2a2a" stroke-width="1.0"/>
<text x="339.12" y="470.30" font-size="9" text-anchor="middle" >35</text>
<line x1="365.30" y1="458.30" x2="365.30" y2="454.30" stroke="#2a2a2a" stroke-width="1.0"/>
<text x="365.30" y="470.30" font-size="9" text-anchor="middle" >40</text>
<line x1="391.48" y1="458.30" x2="391.48" y2="454.30" stroke="#2a2a2a" stroke-width="1.0"/>
<text x="391.48" y="470.30" font-size="9" text-anchor="middle" >45</text>
<line x1="417.65" y1="458.30" x2="417.65" y2="454.30" stroke="#2a2a2a" stroke-width="1.0"/>
<text x="417.65" y="470.30" font-size="9" text-anchor="middle" >50</text>
<line x1="443.83" y1="458.30" x2="443.83" y2="454.30" stroke="#2a2a2a" stroke-width="1.0"/>
<text x="443.83" y="470.30" font-size="9" text-anchor="middle" >55</text>
<line x1="470.00" y1="458.30" x2="470.00" y2="454.30" stroke="#2a2a2a" stroke-width="1.0"/>
<text x="470.00" y="470.30" font-size="9" text-anchor="middle" >60</text>
<line x1="155.90" y1="485.40" x2="257.20" y2="485.40" stroke="#2a2a2a" stroke-width="1.1"/>
<line x1="155.90" y1="485.40" x2="155.90" y2="481.40" stroke="#2a2a2a" stroke-width="1.0"/>
<text x="155.90" y="497.40" font-size="9" text-anchor="middle" >Female</text>
<line x1="257.20" y1="485.40" x2="257.20" y2="489.40" stroke="#2a2a2a" stroke-width="1.0"/>
<text x="257.20" y="480.20" font-size="9" text-anchor="middle" >Male</text>
<line x1="155.90" y1="512.70" x2="393.70" y2="512.70" stroke="#2a2a2a" stroke-width="1.1"/>
<line x1="155.90" y1="512.70" x2="155.90" y2="508.70" stroke="#2a2a2a" stroke-width="1.0"/>
<text x="155.90" y="524.70" font-size="9" text-anchor="middle" >No</text>
<line x1="253.50" y1="512.70" x2="253.50" y2="516.70" stroke="#2a2a2a" stroke-width="1.0"/>
<text x="253.50" y="507.50" font-size="9" text-anchor="middle" >Capsular invasion</text>
<line x1="393.70" y1="512.70" x2="393.70" y2="508.70" stroke="#2a2a2a" stroke-width="1.0"/>
<text x="393.70" y="524.70" font-size="9" text-anchor="middle" >ETE</text>
<line x1="155.90" y1="540.10" x2="295.20" y2="540.10" stroke="#2a2a2a" stroke-width="1.1"/>
<line x1="155.90" y1="540.10" x2="155.90" y2="536.10" stroke="#2a2a2a" stroke-width="1.0"/>
<text x="155.90" y="552.10" font-size="9" text-anchor="middle" > </text>
<polygon points="156.10,552.10 156.10,546.66 154.70,547.66 154.70,546.91 156.17,545.91 156.90,545.91 156.90,552.10" fill="#000000"/>
<line x1="176.10" y1="540.10" x2="176.10" y2="544.10" stroke="#2a2a2a" stroke-width="1.0"/>
<text x="176.10" y="534.90" font-size="9" text-anchor="middle" >2</text>
<line x1="295.20" y1="540.10" x2="295.20" y2="536.10" stroke="#2a2a2a" stroke-width="1.0"/>
<text x="295.20" y="552.10" font-size="9" text-anchor="middle" >3 or more</text>
<line x1="155.90" y1="567.40" x2="411.20" y2="567.40" stroke="#2a2a2a" stroke-width="1.1"/>
<line x1="155.90" y1="567.40" x2="155.90" y2="563.40" stroke="#2a2a2a" stroke-width="1.0"/>
<text x="155.90" y="579.40" font-size="9" text-anchor="middle" >No</text>
<line x1="411.20" y1="567.40" x2="411.20" y2="571.40" stroke="#2a2a2a" stroke-width="1.0"/>
<text x="411.20" y="562.20" font-size="9" text-anchor="middle" >Yes</text>
<line x1="155.90" y1="594.40" x2="676.05" y2="594.40" stroke="#2a2a2a" stroke-width="1.1"/>
<line x1="155.90" y1="594.40" x2="155.90" y2="590.40" stroke="#2a2a2a" stroke-width="1.0"/>
<text x="155.90" y="606.80" font-size="9" text-anchor="middle" >0</text>
<line x1="164.57" y1="594.40" x2="164.57" y2="592.20" stroke="#2a2a2a" stroke-width="0.9"/>
<line x1="173.24" y1="594.40" x2="173.24" y2="592.20" stroke="#2a2a2a" stroke-width="0.9"/>
<line x1="181.91" y1="594.40" x2="181.91" y2="592.20" stroke="#2a2a2a" stroke-width="0.9"/>
<line x1="190.58" y1="594.40" x2="190.58" y2="592.20" stroke="#2a2a2a" stroke-width="0.9"/>
<line x1="199.25" y1="594.40" x2="199.25" y2="590.40" stroke="#2a2a2a" stroke-width="1.0"/>
<text x="199.25" y="606.80" font-size="9" text-anchor="middle" >20</text>
<line x1="207.91" y1="594.40" x2="207.91" y2="592.20" stroke="#2a2a2a" stroke-width="0.9"/>
<line x1="216.58" y1="594.40" x2="216.58" y2="592.20" stroke="#2a2a2a" stroke-width="0.9"/>
<line x1="225.25" y1="594.40" x2="225.25" y2="592.20" stroke="#2a2a2a" stroke-width="0.9"/>
<line x1="233.92" y1="594.40" x2="233.92" y2="592.20" stroke="#2a2a2a" stroke-width="0.9"/>
<line x1="242.59" y1="594.40" x2="242.59" y2="590.40" stroke="#2a2a2a" stroke-width="1.0"/>
<text x="242.59" y="606.80" font-size="9" text-anchor="middle" >40</text>
<line x1="251.26" y1="594.40" x2="251.26" y2="592.20" stroke="#2a2a2a" stroke-width="0.9"/>
<line x1="259.93" y1="594.40" x2="259.93" y2="592.20" stroke="#2a2a2a" stroke-width="0.9"/>
<line x1="268.60" y1="594.40" x2="268.60" y2="592.20" stroke="#2a2a2a" stroke-width="0.9"/>
<line x1="277.27" y1="594.40" x2="277.27" y2="592.20" stroke="#2a2a2a" stroke-width="0.9"/>
<line x1="285.94" y1="594.40" x2="285.94" y2="590.40" stroke="#2a2a2a" stroke-width="1.0"/>
<text x="285.94" y="606.80" font-size="9" text-anchor="middle" >60</text>
<line x1="294.61" y1="594.40" x2="294.61" y2="592.20" stroke="#2a2a2a" stroke-width="0.9"/>
<line x1="303.28" y1="594.40" x2="303.28" y2="592.20" stroke="#2a2a2a" stroke-width="0.9"/>
<line x1="311.94" y1="594.40" x2="311.94" y2="592.20" stroke="#2a2a2a" stroke-width="0.9"/>
<line x1="320.61" y1="594.40" x2="320.61" y2="592.20" stroke="#2a2a2a" stroke-width="0.9"/>
<line x1="329.28" y1="594.40" x2="329.28" y2="590.40" stroke="#2a2a2a" stroke-width="1.0"/>
<text x="329.28" y="606.80" font-size="9" text-anchor="middle" >80</text>
<line x1="337.95" y1="594.40" x2="337.95" y2="592.20" stroke="#2a2a2a" stroke-width="0.9"/>
<line x1="346.62" y1="594.40" x2="346.62" y2="592.20" stroke="#2a2a2a" stroke-width="0.9"/>
<line x1="355.29" y1="594.40" x2="355.29" y2="592.20" stroke="#2a2a2a" stroke-width="0.9"/>
<line x1="363.96" y1="594.40" x2="363.96" y2="592.20" stroke="#2a2a2a" stroke-width="0.9"/>
<line x1="372.63" y1="594.40" x2="372.63" y2="590.40" stroke="#2a2a2a" stroke-width="1.0"/>
<text x="372.63" y="606.80" font-size="9" text-anchor="middle" > 00</text>
<polygon points="367.82,606.80 367.82,601.36 366.43,602.36 366.43,601.61 367.89,600.61 368.62,600.61 368.62,606.80" fill="#000000"/>
<line x1="381.30" y1="594.40" x2="381.30" y2="592.20" stroke="#2a2a2a" stroke-width="0.9"/>
<line x1="389.97" y1="594.40" x2="389.97" y2="592.20" stroke="#2a2a2a" stroke-width="0.9"/>
<line x1="398.64" y1="594.40" x2="398.64" y2="592.20" stroke="#2a2a2a" stroke-width="0.9"/>
<line x1="407.31" y1="594.40" x2="407.31" y2="592.20" stroke="#2a2a2a" stroke-width="0.9"/>
<line x1="415.98" y1="594.40" x2="415.98" y2="590.40" stroke="#2a2a2a" stroke-width="1.0"/>
<text x="415.98" y="606.80" font-size="9" text-anchor="middle" > 20</text>
<polygon points="411.17,606.80 411.17,601.36 409.77,602.36 409.77,601.61 411.24,600.61 411.96,600.61 411.96,606.80" fill="#000000"/>
<line x1="424.64" y1="594.40" x2="424.64" y2="592.20" stroke="#2a2a2a" stroke-width="0.9"/>
<line x1="433.31" y1="594.40" x2="433.31" y2="592.20" stroke="#2a2a2a" stroke-width="0.9"/>
<line x1="441.98" y1="594.40" x2="441.98" y2="592.20" stroke="#2a2a2a" stroke-width="0.9"/>
<line x1="450.65" y1="594.40" x2="450.65" y2="592.20" stroke="#2a2a2a" stroke-width="0.9"/>
<line x1="459.32" y1="594.40" x2="459.32" y2="590.40" stroke="#2a2a2a" stroke-width="1.0"/>
<text x="459.32" y="606.80" font-size="9" text-anchor="middle" > 40</text>
<polygon points="454.52,606.80 454.52,601.36 453.12,602.36 453.12,601.61 454.58,600.61 455.31,600.61 455.31,606.80" fill="#000000"/>
<line x1="467.99" y1="594.40" x2="467.99" y2="592.20" stroke="#2a2a2a" stroke-width="0.9"/>
<line x1="476.66" y1="594.40" x2="476.66" y2="592.20" stroke="#2a2a2a" stroke-width="0.9"/>
<line x1="485.33" y1="594.40" x2="485.33" y2="592.20" stroke="#2a2a2a" stroke-width="0.9"/>
<line x1="494.00" y1="594.40" x2="494.00" y2="592.20" stroke="#2a2a2a" stroke-width="0.9"/>
<line x1="502.67" y1="594.40" x2="502.67" y2="590.40" stroke="#2a2a2a" stroke-width="1.0"/>
<text x="502.67" y="606.80" font-size="9" text-anchor="middle" > 60</text>
<polygon points="497.86,606.80 497.86,601.36 496.46,602.36 496.46,601.61 497.93,600.61 498.66,600.61 498.66,606.80" fill="#000000"/>
<line x1="511.34" y1="594.40" x2="511.34" y2="592.20" stroke="#2a2a2a" stroke-width="0.9"/>
<line x1="520.00" y1="594.40" x2="520.00" y2="592.20" stroke="#2a2a2a" stroke-width="0.9"/>
<line x1="528.67" y1="594.40" x2="528.67" y2="592.20" stroke="#2a2a2a" stroke-width="0.9"/>
<line x1="537.34" y1="594.40" x2="537.34" y2="592.20" stroke="#2a2a2a" stroke-width="0.9"/>
<line x1="546.01" y1="594.40" x2="546.01" y2="590.40" stroke="#2a2a2a" stroke-width="1.0"/>
<text x="546.01" y="606.80" font-size="9" text-anchor="middle" > 80</text>
<polygon points="541.21,606.80 541.21,601.36 539.81,602.36 539.81,601.61 541.27,600.61 542.00,600.61 542.00,606.80" fill="#000000"/>
<line x1="554.68" y1="594.40" x2="554.68" y2="592.20" stroke="#2a2a2a" stroke-width="0.9"/>
<line x1="563.35" y1="594.40" x2="563.35" y2="592.20" stroke="#2a2a2a" stroke-width="0.9"/>
<line x1="572.02" y1="594.40" x2="572.02" y2="592.20" stroke="#2a2a2a" stroke-width="0.9"/>
<line x1="580.69" y1="594.40" x2="580.69" y2="592.20" stroke="#2a2a2a" stroke-width="0.9"/>
<line x1="589.36" y1="594.40" x2="589.36" y2="590.40" stroke="#2a2a2a" stroke-width="1.0"/>
<text x="589.36" y="606.80" font-size="9" text-anchor="middle" >200</text>
<line x1="598.03" y1="594.40" x2="598.03" y2="592.20" stroke="#2a2a2a" stroke-width="0.9"/>
<line x1="606.70" y1="594.40" x2="606.70" y2="592.20" stroke="#2a2a2a" stroke-width="0.9"/>
<line x1="615.37" y1="594.40" x2="615.37" y2="592.20" stroke="#2a2a2a" stroke-width="0.9"/>
<line x1="624.03" y1="594.40" x2="624.03" y2="592.20" stroke="#2a2a2a" stroke-width="0.9"/>
<line x1="632.70" y1="594.40" x2="632.70" y2="590.40" stroke="#2a2a2a" stroke-width="1.0"/>
<text x="632.70" y="606.80" font-size="9" text-anchor="middle" >220</text>
<line x1="641.37" y1="594.40" x2="641.37" y2="592.20" stroke="#2a2a2a" stroke-width="0.9"/>
<line x1="650.04" y1="594.40" x2="650.04" y2="592.20" stroke="#2a2a2a" stroke-width="0.9"/>
<line x1="658.71" y1="594.40" x2="658.71" y2="592.20" stroke="#2a2a2a" stroke-width="0.9"/>
<line x1="667.38" y1="594.40" x2="667.38" y2="592.20" stroke="#2a2a2a" stroke-width="0.9"/>
<line x1="676.05" y1="594.40" x2="676.05" y2="590.40" stroke="#2a2a2a" stroke-width="1.0"/>
<text x="676.05" y="606.80" font-size="9" text-anchor="middle" >240</text>
<line x1="292.37" y1="622.00" x2="600.43" y2="622.00" stroke="#2a2a2a" stroke-width="1.1"/>
<line x1="292.37" y1="622.00" x2="292.37" y2="618.00" stroke="#2a2a2a" stroke-width="1.0"/>
<text x="292.37" y="634.00" font-size="9" text-anchor="middle" >0. </text>
<polygon points="296.33,634.00 296.33,628.56 294.93,629.56 294.93,628.81 296.39,627.81 297.12,627.81 297.12,634.00" fill="#000000"/>
<line x1="387.00" y1="622.00" x2="387.00" y2="618.00" stroke="#2a2a2a" stroke-width="1.0"/>
<text x="387.00" y="634.00" font-size="9" text-anchor="middle" >0.3</text>
<line x1="446.40" y1="622.00" x2="446.40" y2="618.00" stroke="#2a2a2a" stroke-width="1.0"/>
<text x="446.40" y="634.00" font-size="9" text-anchor="middle" >0.5</text>
<line x1="505.80" y1="622.00" x2="505.80" y2="618.00" stroke="#2a2a2a" stroke-width="1.0"/>
<text x="505.80" y="634.00" font-size="9" text-anchor="middle" >0.7</text>
<line x1="600.43" y1="622.00" x2="600.43" y2="618.00" stroke="#2a2a2a" stroke-width="1.0"/>
<text x="600.43" y="634.00" font-size="9" text-anchor="middle" >0.9</text>
</svg>
</body></html>
